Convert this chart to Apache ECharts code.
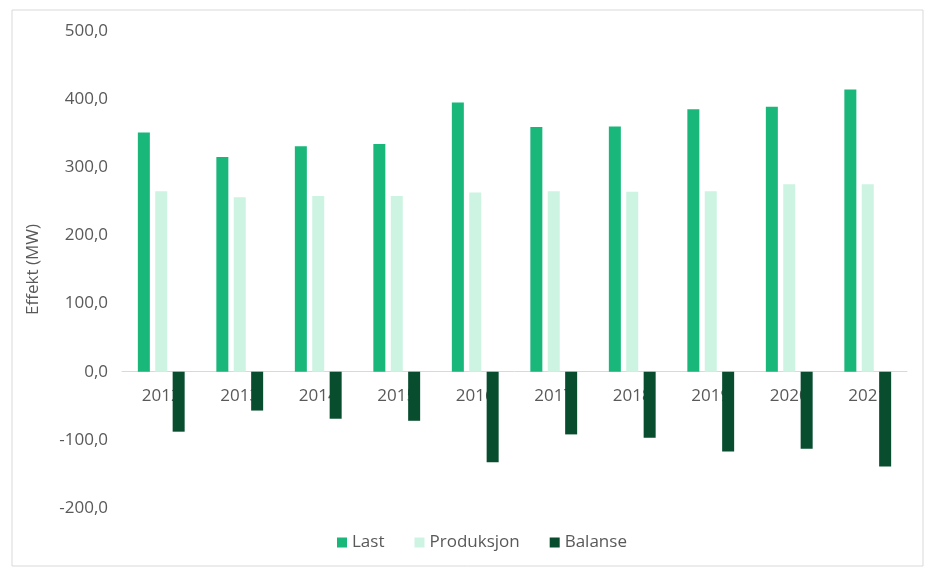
<!DOCTYPE html>
<html>
<head>
<meta charset="utf-8">
<script src="https://cdn.jsdelivr.net/npm/echarts@6/dist/echarts.min.js"></script>
<style>
  html, body { margin: 0; padding: 0; background: #ffffff; }
  #chart { width: 928px; height: 569px; }
</style>
</head>
<body>
<div id="chart"></div>
<script>
// Years on the category axis
const years = ['2012', '2013', '2014', '2015', '2016', '2017', '2018', '2019', '2020', '2021'];
// Peak load (MW)
const last = [351, 315, 331, 334, 395, 359, 360, 385, 389, 414];
// Production (MW)
const produksjon = [265, 256, 258, 258, 263, 265, 264, 265, 275, 275];
// Balance = production - load (MW)
const balanse = [-88, -57, -69, -72, -133, -92, -97, -117, -113, -139];
// Value-axis bounds and step
const yMin = -200, yMax = 500, yStep = 100;

const textColor = '#595959';
const fontFamily = '"Open Sans", "Liberation Sans", sans-serif';
const fontSize = 17;

// Plot area
const W = 928, H = 569;
const gridTop = 31, gridBottom = 61;
const plotH = H - gridTop - gridBottom;
// Distance from the bottom of the plot to the zero line, so the year labels sit under it
const zeroFromBottom = plotH * (0 - yMin) / (yMax - yMin);

const chart = echarts.init(document.getElementById('chart'), null, { renderer: 'canvas' });

const fmt = v => v.toFixed(1).replace('.', ',');

chart.setOption({
  backgroundColor: '#ffffff',
  animation: false,
  textStyle: { fontFamily: fontFamily },
  graphic: [{
    type: 'rect',
    shape: { x: 12, y: 10, width: 911, height: 556 },
    style: { fill: 'none', stroke: '#d9d9d9', lineWidth: 1 },
    silent: true,
    z: -1
  }],
  grid: { left: 122, right: 21, top: gridTop, bottom: gridBottom, containLabel: false },
  legend: {
    bottom: 13,
    left: 332,
    itemWidth: 10,
    itemHeight: 10,
    itemGap: 30,
    icon: 'rect',
    textStyle: { color: textColor, fontSize: fontSize, fontFamily: fontFamily },
    data: ['Last', 'Produksjon', 'Balanse']
  },
  xAxis: {
    type: 'category',
    data: years,
    offset: -zeroFromBottom,
    z: 0,
    axisLine: { show: true, onZero: false, lineStyle: { color: '#d9d9d9', width: 1 } },
    axisTick: { show: false },
    axisLabel: { color: textColor, fontSize: fontSize, margin: 16, fontFamily: fontFamily }
  },
  yAxis: {
    type: 'value',
    min: yMin,
    max: yMax,
    interval: yStep,
    name: 'Effekt (MW)',
    nameLocation: 'middle',
    nameGap: 80,
    nameRotate: 90,
    nameTextStyle: { color: textColor, fontSize: fontSize, fontFamily: fontFamily },
    axisLine: { show: false },
    axisTick: { show: false },
    splitLine: { show: false },
    axisLabel: { color: textColor, fontSize: fontSize, margin: 14, formatter: fmt, fontFamily: fontFamily }
  },
  series: [
    {
      name: 'Last', type: 'bar', data: last, z: 5,
      barWidth: 12, barGap: '45%',
      itemStyle: { color: '#1ab77b' }
    },
    {
      name: 'Produksjon', type: 'bar', data: produksjon, z: 5,
      barWidth: 12, barGap: '45%',
      itemStyle: { color: '#cdf4e2' }
    },
    {
      name: 'Balanse', type: 'bar', data: balanse, z: 5,
      barWidth: 12, barGap: '45%',
      itemStyle: { color: '#074d2e' }
    }
  ]
});
</script>
</body>
</html>
